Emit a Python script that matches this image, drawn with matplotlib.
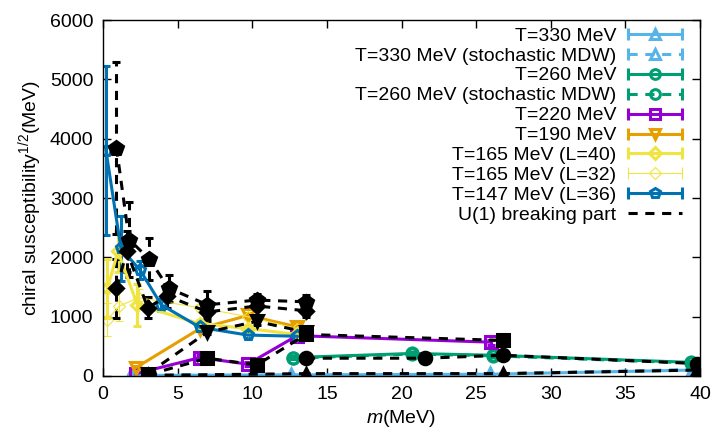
import matplotlib
matplotlib.use('Agg')
import matplotlib.pyplot as plt
from matplotlib.lines import Line2D
from matplotlib.legend_handler import HandlerLine2D

plt.rcParams['font.family'] = ['Liberation Sans', 'DejaVu Sans']
plt.rcParams['mathtext.fontset'] = 'custom'
plt.rcParams['mathtext.rm'] = 'Liberation Sans'
plt.rcParams['mathtext.it'] = 'Liberation Sans:italic'
plt.rcParams['font.size'] = 14

# ---- data ----
m330 = [1.9, 12.6, 25.9, 39.5]
y330 = [10, 20, 30, 100]
e330 = [10, 10, 10, 10]
m330s = [1.9, 12.6, 25.9, 39.5]
y330s = [15, 25, 35, 110]
e330s = [10, 10, 10, 15]

m260 = [12.7, 20.7, 26.1, 39.4]
y260 = [310, 380, 350, 230]
e260 = [20, 20, 20, 20]
m260s = [12.7, 20.7, 26.1, 39.4]
y260s = [300, 370, 340, 220]
e260s = [20, 20, 20, 20]

m220 = [2.2, 6.5, 9.7, 13.0, 26.0]
y220 = [40, 310, 200, 680, 570]
e220 = [20, 40, 30, 40, 40]

m190 = [2.2, 6.5, 9.7, 13.0]
y190 = [140, 800, 1020, 830]
e190 = [30, 40, 40, 40]

m165a = [0.3, 1.0, 2.3, 6.5, 9.7, 13.0]
y165a = [1480, 2100, 1200, 880, 800, 700]
e165a = [500, 350, 350, 60, 60, 50]

m165b = [0.3, 1.1, 2.4, 6.5, 9.7, 13.0]
y165b = [950, 1180, 1320, 1150, 1000, 800]
e165b = [280, 250, 150, 60, 50, 40]

m147 = [0.2, 1.2, 2.5, 3.9, 6.5, 9.7, 13.0]
y147 = [3800, 2150, 1780, 1200, 820, 690, 670]
e147 = [1420, 550, 150, 100, 60, 50, 50]

# U(1) breaking part
u147_m = [0.9, 1.75, 3.1, 4.4, 7.0, 10.3, 13.6]
u147_y = [3850, 2300, 1970, 1480, 1200, 1280, 1250]
u147_e = [1450, 630, 360, 230, 230, 100, 120]
u165_m = [0.9, 1.6, 3.0, 4.3, 7.0, 10.3, 13.6]
u165_y = [1480, 2100, 1150, 1350, 1080, 1180, 1100]
u165_e = [500, 350, 180, 200, 150, 150, 100]
u190_m = [3.0, 7.0, 10.3, 13.6]
u190_y = [40, 740, 920, 740]
u190_e = [20, 40, 60, 40]
u220_m = [3.0, 7.0, 10.3, 13.6, 26.8]
u220_y = [20, 300, 185, 700, 600]
u220_e = [10, 30, 30, 40, 30]
u260_m = [13.6, 21.6, 26.8, 39.8]
u260_y = [300, 300, 350, 210]
u260_e = [20, 20, 20, 20]
u330_m = [3.0, 13.6, 26.8, 39.8]
u330_y = [10, 40, 40, 100]
u330_e = [10, 10, 10, 10]

labels = ['T=330 MeV', 'T=330 MeV (stochastic MDW)', 'T=260 MeV',
          'T=260 MeV (stochastic MDW)', 'T=220 MeV', 'T=190 MeV',
          'T=165 MeV (L=40)', 'T=165 MeV (L=32)', 'T=147 MeV (L=36)',
          'U(1) breaking part']

DASH = (0, (3, 2.5))

fig = plt.figure(figsize=(7.15, 4.34), dpi=100)
ax = fig.add_axes([103/715, 58/434, 597/715, 356/434])


def draw(x, y, e, color, marker, ls='-', lw=2.2, filled=False, ms=8):
    eb = ax.errorbar(x, y, yerr=e, color=color, ls=ls, lw=lw, marker=marker,
                     ms=ms, mfc=color if filled else 'none', mec=color,
                     mew=lw, capsize=3, capthick=lw, elinewidth=lw)
    for c in eb[2]:
        c.set_linestyle('-' if ls == '-' else DASH)
    return eb


def handle(color, marker, ls='-', lw=2.2, ms=7):
    ln = Line2D([], [], color=color, ls=ls, lw=lw, marker=marker, ms=ms,
                mfc='none', mec=color, mew=lw)
    caps = Line2D([], [], color=color, ls='none', marker='|', ms=8, mew=lw)
    return (ln, caps)


series = [
    (m330, y330, e330, '#56b4e9', '^', '-', 2.2),
    (m330s, y330s, e330s, '#56b4e9', '^', DASH, 2.2),
    (m260, y260, e260, '#009e73', 'o', '-', 2.2),
    (m260s, y260s, e260s, '#009e73', 'o', DASH, 2.2),
    (m220, y220, e220, '#9400d3', 's', '-', 2.2),
    (m190, y190, e190, '#e69f00', 'v', '-', 2.2),
    (m165a, y165a, e165a, '#f0e442', 'D', '-', 2.2),
    (m165b, y165b, e165b, '#f0e442', 'D', '-', 0.8),
    (m147, y147, e147, '#0072b2', 'p', '-', 2.2),
]

handles = []
hmap = {}
for x, y, e, c, mk, ls, lw in series:
    ms = 6.5 if mk == 'D' else 8
    draw(x, y, e, c, mk, ls=ls, lw=lw, ms=ms)
    h = handle(c, mk, ls=ls, lw=lw, ms=6 if mk == 'D' else 7)
    hmap[h[1]] = HandlerLine2D(numpoints=2, marker_pad=0)
    handles.append(h)

ublack = [
    (u330_m, u330_y, u330_e, '^', 9),
    (u260_m, u260_y, u260_e, 'o', 9),
    (u220_m, u220_y, u220_e, 's', 8),
    (u190_m, u190_y, u190_e, 'v', 9),
    (u165_m, u165_y, u165_e, 'D', 7.5),
    (u147_m, u147_y, u147_e, 'p', 10),
]
for x, y, e, mk, ms in ublack:
    draw(x, y, e, 'black', mk, ls=DASH, lw=2.2, filled=True, ms=ms)
handles.append(Line2D([], [], color='black', ls=DASH, lw=2.2))

ax.set_xlim(0, 40)
ax.set_ylim(0, 6000)
ax.set_xticks(range(0, 41, 5))
ax.set_yticks(range(0, 6001, 1000))
ax.tick_params(direction='in', top=True, right=True, length=6, width=1, pad=7)
for s in ax.spines.values():
    s.set_linewidth(1)
ax.set_xlabel('$m$(MeV)', labelpad=4)
ax.set_ylabel('chiral susceptibility$^{1/2}$(MeV)', labelpad=4)

leg = ax.legend(handles, labels, handler_map=hmap, markerfirst=False,
                frameon=False, loc='upper right',
                bbox_to_anchor=(682/715, 1 - 27/434), bbox_transform=fig.transFigure,
                borderpad=0, borderaxespad=0, handlelength=2.8,
                handletextpad=0.57, labelspacing=0.12, fontsize=14)

fig.savefig('out.png', dpi=100)
